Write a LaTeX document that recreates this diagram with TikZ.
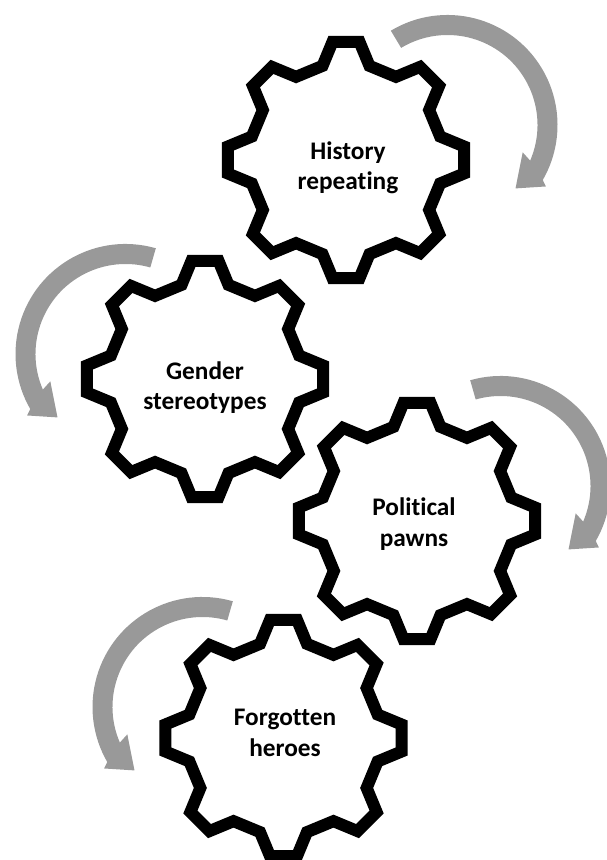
\documentclass[tikz,border=0pt]{standalone}
\usepackage{fontspec}
\setmainfont{Carlito}[Ligatures=NoCommon]
\usepackage{tikz}
\definecolor{arrowgray}{RGB}{153,153,153}

\begin{document}
\begin{tikzpicture}[x=0.025cm,y=0.025cm]
  \tikzstyle{gearline}=[line width=0.3cm,line join=miter,draw=black]
  \tikzstyle{caption}=[align=center,inner sep=0pt,font=\bfseries\fontsize{18}{21.5}\selectfont]
  \tikzstyle{turnfill}=[fill=arrowgray]
  \tikzset{
    gear/.pic={
      \draw[gearline] (76:97)
        \foreach \a in {90,135,...,360}{-- (\a-6.5:119) -- (\a+6.5:119) -- (\a+14:97) -- (\a+31:97)}
        -- (398.5:119) -- (411.5:119) -- (419:97) -- cycle;
    },
    turn/.pic={
      \fill[turnfill] (#1:110) arc[start angle=#1, end angle=-30, radius=110]
        -- (-32:116) -- (-43:93) -- (-20:80) -- (-23.3:90)
        arc[start angle=-23.3, end angle=#1, radius=90] -- cycle;
    }
  }
  \useasboundingbox (0,0) rectangle (606,860);

  % centres of the gears and of the turning arrows
  \coordinate (g1) at (346,700);
  \coordinate (g2) at (205,481);
  \coordinate (g3) at (417,339);
  \coordinate (g4) at (283.5,122);
  \coordinate (a1) at (447.5,735);
  \coordinate (a2) at (125.5,506);
  \coordinate (a3) at (500.5,374);
  \coordinate (a4) at (202.5,153);

  \pic at (a1) {turn=121};
  \pic[xscale=-1] at (a2) {turn=106};
  \pic at (a3) {turn=106};
  \pic[xscale=-1] at (a4) {turn=106};

  \pic at (g1) {gear};
  \pic at (g2) {gear};
  \pic at (g3) {gear};
  \pic at (g4) {gear};

  \node[caption] (history) at (348,692) {History\\repeating};
  \node[caption] (gender) at (205,472) {Gender\\stereotypes};
  \node[caption] (political) at (414,336) {Political\\pawns};
  \node[caption] (forgotten) at (285,127) {Forgotten\\heroes};
\end{tikzpicture}
\end{document}
